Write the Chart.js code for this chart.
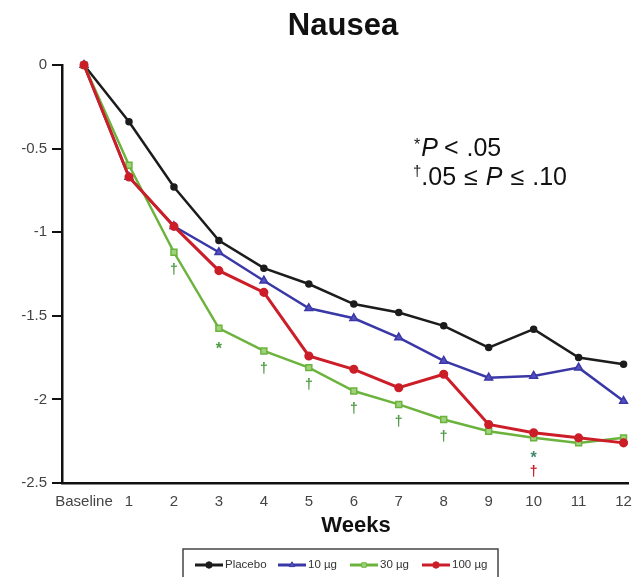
<!DOCTYPE html>
<html>
<head>
<meta charset="utf-8">
<script src="https://cdn.jsdelivr.net/npm/chart.js@4/dist/chart.umd.min.js"></script>
<style>
  html, body { margin: 0; padding: 0; background: #fff; }
  canvas { display: block; }
</style>
</head>
<body>
<canvas id="c" width="642" height="577"></canvas>
<script>
// Mean change from baseline in nausea score, by week
const weekLabels = ['Baseline', '1', '2', '3', '4', '5', '6', '7', '8', '9', '10', '11', '12'];
const placebo = [0, -0.34, -0.73, -1.05, -1.215, -1.31, -1.43, -1.48, -1.56, -1.69, -1.58, -1.75, -1.79];
const dose10  = [0, -0.67, -0.965, -1.12, -1.29, -1.455, -1.515, -1.63, -1.77, -1.87, -1.86, -1.81, -2.01];
const dose30  = [0, -0.60, -1.12, -1.575, -1.71, -1.81, -1.95, -2.03, -2.12, -2.19, -2.23, -2.26, -2.23];
const dose100 = [0, -0.67, -0.965, -1.23, -1.36, -1.74, -1.82, -1.93, -1.85, -2.15, -2.20, -2.23, -2.26];
const yTicks = [0, -0.5, -1, -1.5, -2, -2.5];

// Significance markers vs placebo (* P < .05, † .05 ≤ P ≤ .10)
const marks30  = ['', '', '†', '*', '†', '†', '†', '†', '†', '', '*', '', ''];
const marks100 = ['', '', '', '', '', '', '', '', '', '', '†', '', ''];

const seriesNames = ['Placebo', '10 µg', '30 µg', '100 µg'];

const FONT = '"Liberation Sans", Arial, Helvetica, sans-serif';

function toPoints(arr) { return arr.map((v, i) => ({ x: i, y: v })); }

const styles = [
  { color: '#1c1c1c', point: 'circle',   radius: 3,   fill: '#1c1c1c', width: 2.5, order: 4 },
  { color: '#3a38a6', point: 'triangle', radius: 4.5, fill: '#5552c0', width: 2.5, order: 3 },
  { color: '#6cb33e', point: 'rect',     radius: 4.2, fill: '#9ed37a', width: 2.5, order: 2 },
  { color: '#cc1e28', point: 'circle',   radius: 3.8, fill: '#cc1e28', width: 3,   order: 1 }
];

const seriesData = [placebo, dose10, dose30, dose100];

const datasets = seriesData.map((arr, k) => ({
  label: seriesNames[k],
  data: toPoints(arr),
  borderColor: styles[k].color,
  backgroundColor: styles[k].fill,
  borderWidth: styles[k].width,
  pointStyle: styles[k].point,
  pointRadius: styles[k].radius,
  pointBorderColor: styles[k].color,
  pointBorderWidth: 1.5,
  pointBackgroundColor: styles[k].fill,
  tension: 0,
  clip: false,
  order: styles[k].order
}));

// Extra text: title, axis title, p-value key, significance marks and boxed legend
const decorations = {
  id: 'decorations',
  afterDraw(chart) {
    const ctx = chart.ctx;
    const xs = chart.scales.x, ys = chart.scales.y;
    ctx.save();

    // Title
    ctx.fillStyle = '#111';
    ctx.textAlign = 'center';
    ctx.textBaseline = 'alphabetic';
    ctx.font = 'bold 31px ' + FONT;
    ctx.fillText('Nausea', 343, 35);

    // X axis title
    ctx.font = 'bold 22px ' + FONT;
    ctx.fillText('Weeks', 356, 532);

    // P-value key
    ctx.textAlign = 'left';
    const run = (parts, x, y) => {
      for (const p of parts) {
        ctx.font = p.font;
        ctx.fillText(p.t, x, y + (p.dy || 0));
        x += ctx.measureText(p.t).width + (p.gap || 0);
      }
    };
    const reg = '25px ' + FONT, ital = 'italic 25px ' + FONT;
    run([
      { t: '*', font: '16px ' + FONT, dy: -6, gap: 1 },
      { t: 'P', font: ital, gap: 6 },
      { t: '<', font: reg, gap: 8 },
      { t: '.05', font: reg }
    ], 414, 156);
    run([
      { t: '†', font: '15px ' + FONT, dy: -9 },
      { t: '.05', font: reg, gap: 8 },
      { t: '≤', font: reg, gap: 8 },
      { t: 'P', font: ital, gap: 8 },
      { t: '≤', font: reg, gap: 8 },
      { t: '.10', font: reg }
    ], 413, 185);

    // Significance marks placed beneath the lowest point at each week
    ctx.textAlign = 'center';
    ctx.textBaseline = 'middle';
    for (let i = 0; i < weekLabels.length; i++) {
      const px = xs.getPixelForValue(i);
      let y = ys.getPixelForValue(Math.min(dose30[i], dose100[i])) + 18;
      const stack = [
        { m: marks30[i], c: marks30[i] === '*' && marks100[i] ? '#3f8a6a' : '#4f9a45' },
        { m: marks100[i], c: '#c8202a' }
      ];
      for (const s of stack) {
        if (!s.m) continue;
        ctx.fillStyle = s.c;
        ctx.font = (s.m === '*' ? 'bold 16px ' : 'bold 14px ') + FONT;
        ctx.fillText(s.m, px, y + (s.m === '*' ? 3 : 0));
        y += 16;
      }
    }

    // Boxed legend
    ctx.strokeStyle = '#444';
    ctx.lineWidth = 1.5;
    ctx.strokeRect(183, 549, 315, 40);
    ctx.font = '11.5px ' + FONT;
    ctx.textAlign = 'left';
    ctx.textBaseline = 'middle';
    const ly = 565;
    const startX = [195, 278, 350, 422];
    chart.data.datasets.forEach((ds, k) => {
      const x0 = startX[k];
      const len = 28;
      ctx.strokeStyle = ds.borderColor;
      ctx.lineWidth = 3;
      ctx.beginPath();
      ctx.moveTo(x0, ly);
      ctx.lineTo(x0 + len, ly);
      ctx.stroke();
      ctx.fillStyle = ds.pointBackgroundColor;
      ctx.strokeStyle = ds.pointBorderColor;
      ctx.lineWidth = 1;
      Chart.helpers.drawPoint(ctx, { pointStyle: ds.pointStyle, radius: 3.2, rotation: 0, borderWidth: 1 }, x0 + len / 2, ly);
      ctx.fillStyle = '#333';
      ctx.fillText(ds.label, x0 + len + 2, ly);
    });

    ctx.restore();
  }
};

new Chart(document.getElementById('c'), {
  type: 'line',
  data: { datasets },
  options: {
    responsive: false,
    animation: false,
    devicePixelRatio: 1,
    layout: { padding: { top: 65, right: 10, left: 0, bottom: 0 } },
    plugins: { legend: { display: false }, title: { display: false }, tooltip: { enabled: false } },
    scales: {
      x: {
        type: 'linear',
        min: -0.49,
        max: 12.12,
        afterBuildTicks: s => { s.ticks = weekLabels.map((_, i) => ({ value: i })); },
        afterFit: s => { s.height = 94; },
        ticks: {
          callback: v => weekLabels[v],
          font: { family: FONT, size: 15 },
          color: '#444',
          padding: 10,
          maxRotation: 0,
          autoSkip: false
        },
        grid: { drawOnChartArea: false, drawTicks: false },
        border: { color: '#111', width: 2.5 }
      },
      y: {
        min: -2.5,
        max: 0,
        afterBuildTicks: s => { s.ticks = yTicks.map(v => ({ value: v })); },
        afterFit: s => { s.width = 62; },
        ticks: {
          callback: v => String(v),
          font: { family: FONT, size: 15 },
          color: '#444',
          padding: 5
        },
        grid: { drawOnChartArea: false, drawTicks: true, tickLength: 10, color: '#111', lineWidth: 2 },
        border: { color: '#111', width: 2.5 }
      }
    }
  },
  plugins: [decorations]
});
</script>
</body>
</html>
